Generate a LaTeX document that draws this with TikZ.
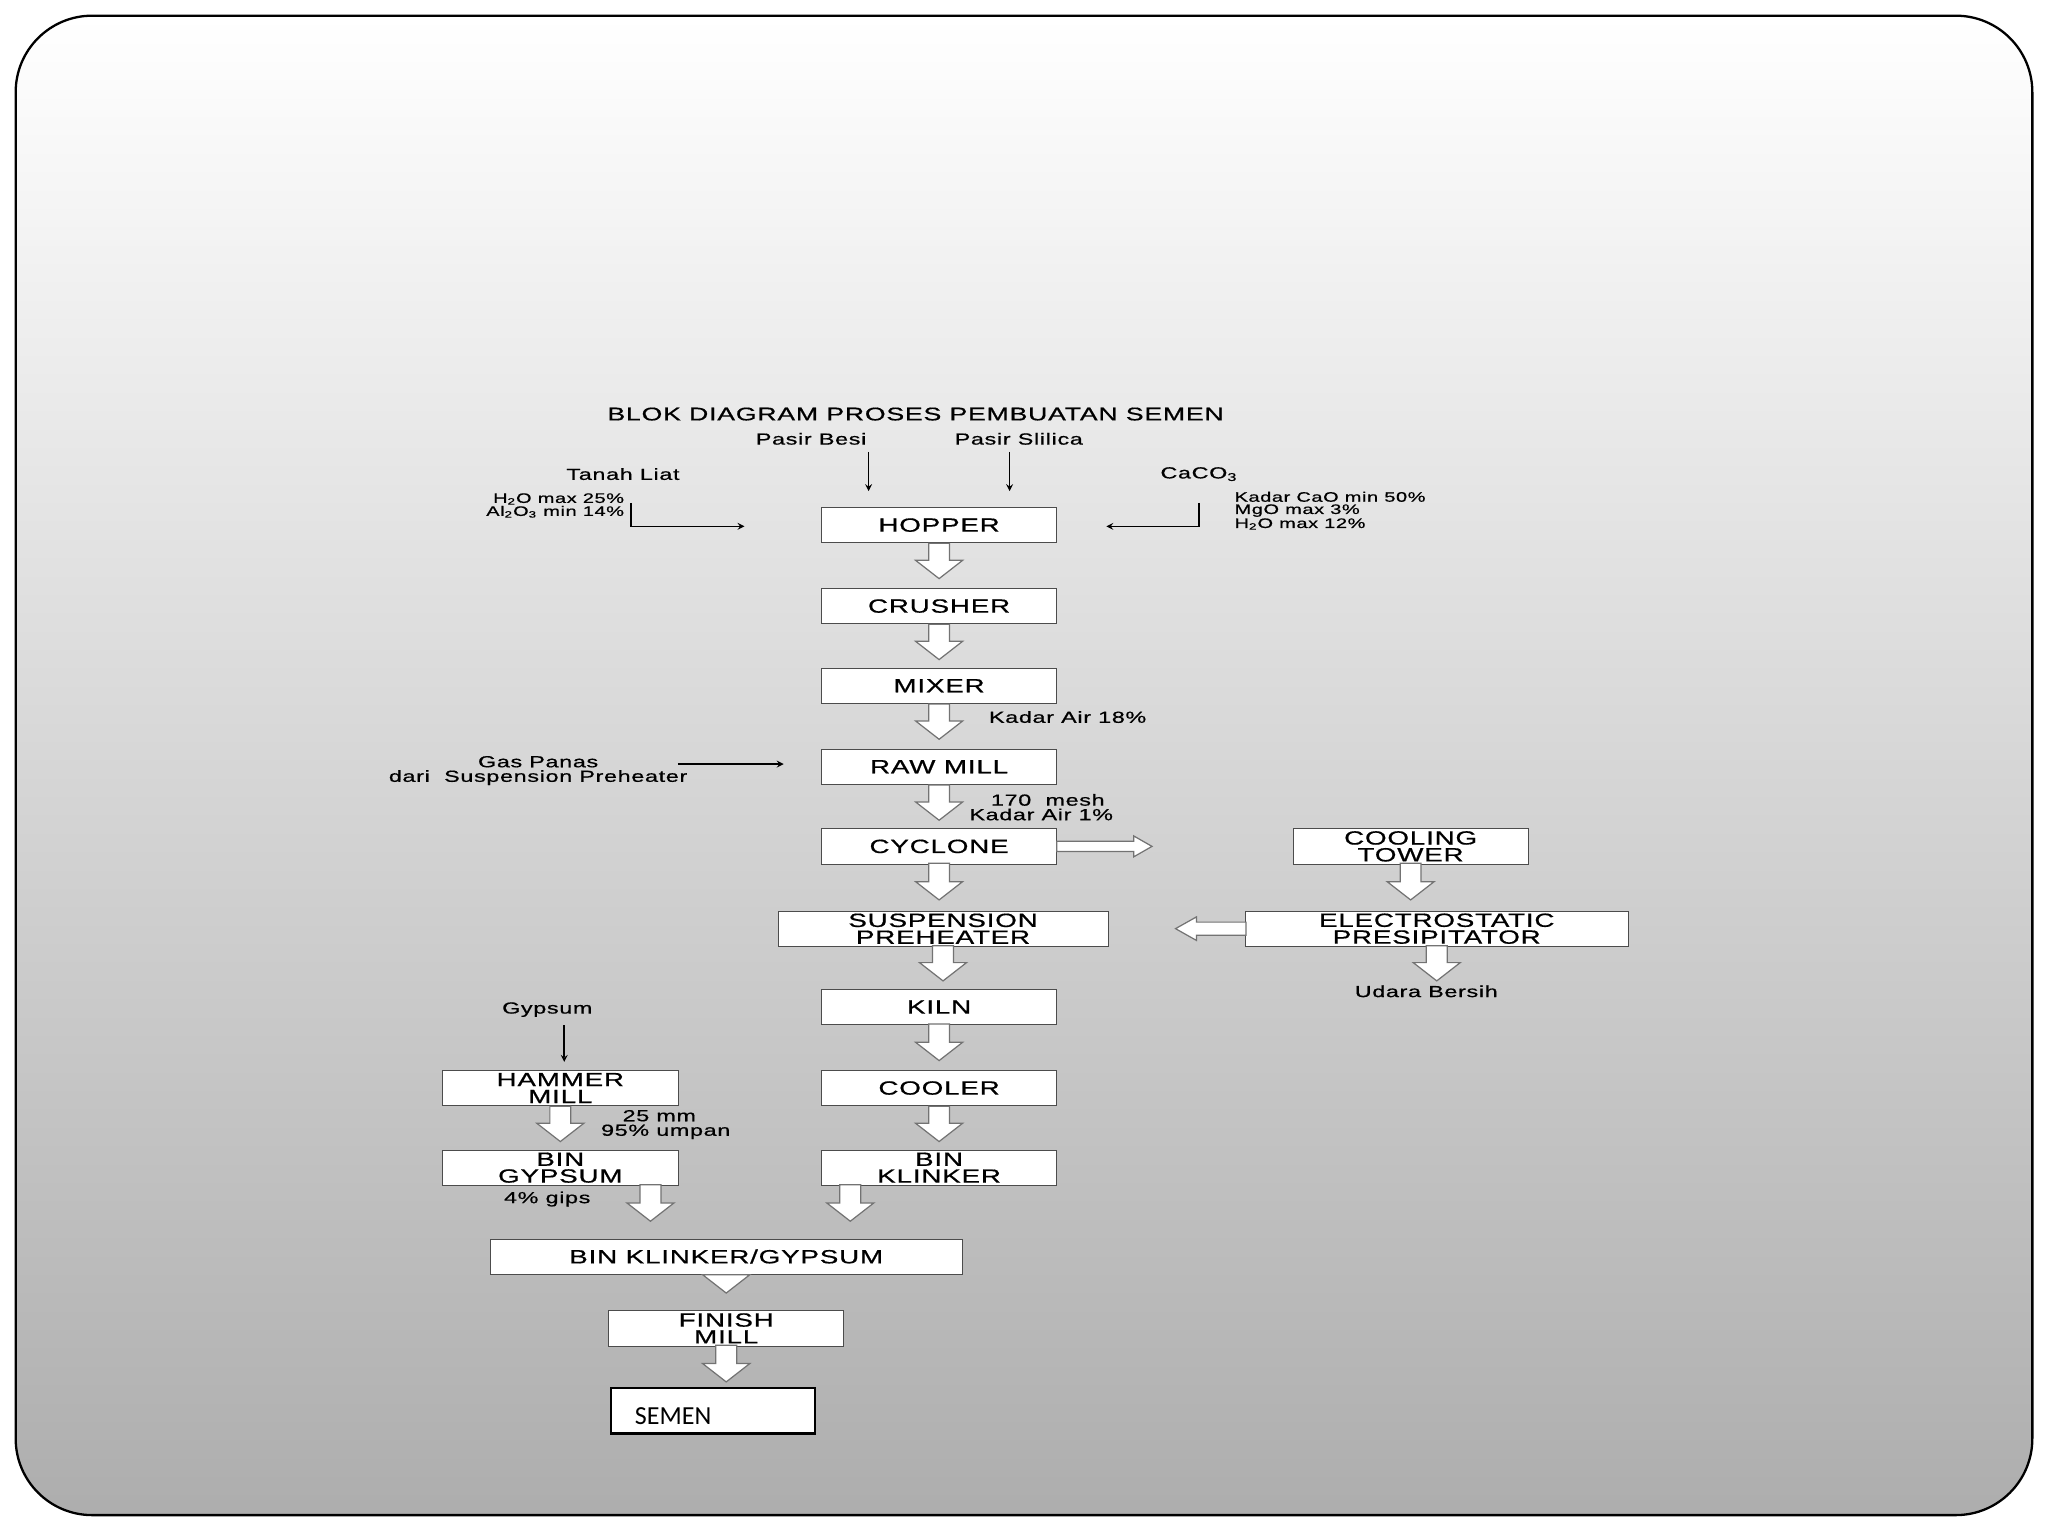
\documentclass[tikz,border=0pt]{standalone}
\usepackage{fontspec}
\usepackage{graphicx}
\setmainfont{Liberation Sans}
\newfontfamily\wide[FakeBold=0.6,LetterSpace=3]{Liberation Sans}
\newfontfamily\carfont{Carlito}
\newcommand\sx[1]{\scalebox{1.45}[1]{#1}}
\begin{document}
\begin{tikzpicture}[x=0.03cm,y=-0.03cm,
 box/.style={draw=black!70,fill=white,minimum width=#1*0.03cm,minimum height=0.81cm,inner sep=0pt,font=\wide\fontsize{12.5}{11}\selectfont,align=center},
 box/.default=180,
 lbl/.style={font=\wide\fontsize{10.5}{9.5}\selectfont,inner sep=0pt,align=center},
 thin/.style={-stealth,line width=1pt}]
\useasboundingbox (0,0) rectangle (1568,1176);
\fill[white] (0,0) rectangle (1568,1176);
\shade[top color=white,bottom color=black!32,rounded corners=50] (12,12) rectangle (1556,1160);
\draw[line width=1.5pt,rounded corners=50] (12,12) rectangle (1556,1160);
\newcommand\dn[4][8]{\draw[black!55,fill=white,line width=0.8pt] (#2-#1,#3) -- (#2+#1,#3) -- (#2+#1,#4-14) -- (#2+18,#4-14) -- (#2,#4) -- (#2-18,#4-14) -- (#2-#1,#4-14) -- cycle;}
% boxes
\node[box] (hop) at (719,402) {\sx{HOPPER}};
\node[box] (cru) at (719,464) {\sx{CRUSHER}};
\node[box] (mix) at (719,525) {\sx{MIXER}};
\node[box] (raw) at (719,587) {\sx{RAW MILL}};
\node[box] (cyc) at (719,648) {\sx{CYCLONE}};
\node[box=253] (sp) at (722,711) {\sx{SUSPENSION}\\\sx{PREHEATER}};
\node[box] (kiln) at (719,771) {\sx{KILN}};
\node[box] (coo) at (719,833) {\sx{COOLER}};
\node[box] (bk) at (719,894) {\sx{BIN}\\\sx{KLINKER}};
\node[box] (ham) at (429,833) {\sx{HAMMER}\\\sx{MILL}};
\node[box] (bg) at (429,894) {\sx{BIN}\\\sx{GYPSUM}};
\node[box=361] (bkg) at (556,962) {\sx{BIN KLINKER/GYPSUM}};
\node[box] (fm) at (556,1017) {\sx{FINISH}\\\sx{MILL}};
\node[draw,line width=1.5pt,fill=white,minimum width=156*0.03cm,minimum height=35*0.03cm,inner sep=0pt] (sem) at (546,1080) {};
\node[anchor=west,font=\carfont\fontsize{17}{17}\selectfont] at (482,1084) {SEMEN};
\node[box] (ct) at (1080,648) {\sx{COOLING}\\\sx{TOWER}};
\node[box=293] (ep) at (1100,711) {\sx{ELECTROSTATIC}\\\sx{PRESIPITATOR}};
% block arrows
\dn{719}{416}{443}\dn{719}{478}{505}\dn{719}{539}{566}\dn{719}{601}{628}\dn{719}{661}{689}
\dn{722}{724}{751}\dn{719}{784}{812}\dn{719}{847}{874}\dn{429}{847}{874}
\dn{1080}{661}{689}\dn{1100}{724}{751}\dn{498}{907}{935}\dn{651}{907}{935}
\dn{556}{976}{990}\dn{556}{1030}{1058}
\draw[black!55,fill=white,line width=0.8pt] (809,644) -- (868,644) -- (868,640) -- (882,648) -- (868,656) -- (868,652) -- (809,652) -- cycle;
\draw[black!55,fill=white,line width=0.8pt] (954,706) -- (916,706) -- (916,702) -- (900,711) -- (916,720) -- (916,716) -- (954,716) -- cycle;
% labels
\node[lbl,font=\wide\fontsize{12}{10}\selectfont] (title) at (701,317) {\sx{BLOK DIAGRAM PROSES PEMBUATAN SEMEN}};
\node[lbl] (pb) at (621,336) {\sx{Pasir Besi}};
\node[lbl] (ps) at (780,336) {\sx{Pasir Slilica}};
\node[lbl] (tl) at (477,363) {\sx{Tanah Liat}};
\node[lbl] (ca) at (918,363) {\sx{CaCO\textsubscript{3}}};
\node[lbl,anchor=east,align=right,font=\wide\fontsize{9}{8.5}\selectfont] at (478,387) {\sx{H\textsubscript{2}O max 25\%}\\\sx{Al\textsubscript{2}O\textsubscript{3} min 14\%}};
\node[lbl,anchor=west,align=left,font=\wide\fontsize{9}{8}\selectfont] at (945,391) {\sx{Kadar CaO min 50\%}\\\sx{MgO max 3\%}\\\sx{H\textsubscript{2}O max 12\%}};
\node[lbl,anchor=west] at (757,549) {\sx{Kadar Air 18\%}};
\node[lbl] (gp) at (412,590) {\sx{Gas Panas}\\\sx{dari\ \ Suspension Preheater}};
\node[lbl,anchor=west,align=left] at (742,618) {\sx{\ \ \ 170\ \ mesh}\\\sx{Kadar Air 1\%}};
\node[lbl] at (1092,759) {\sx{Udara Bersih}};
\node[lbl] (gy) at (419,773) {\sx{Gypsum}};
\node[lbl,anchor=west,align=left] at (460,861) {\sx{\ \ \ 25 mm}\\\sx{95\% umpan}};
\node[lbl] at (419,918) {\sx{4\% gips}};
% thin arrows
\coordinate (pbt) at (665,346); \coordinate (pst) at (773,346);
\draw[thin] (pbt) -- (665,376);
\draw[thin] (pst) -- (773,376);
\draw[thin] (483,385) -- (483,403) -- (570,403);
\draw[thin] (918,385) -- (918,403) -- (847,403);
\draw[thin] (519,585) -- (600,585);
\draw[thin] (432,785) -- (432,813);
\end{tikzpicture}
\end{document}
